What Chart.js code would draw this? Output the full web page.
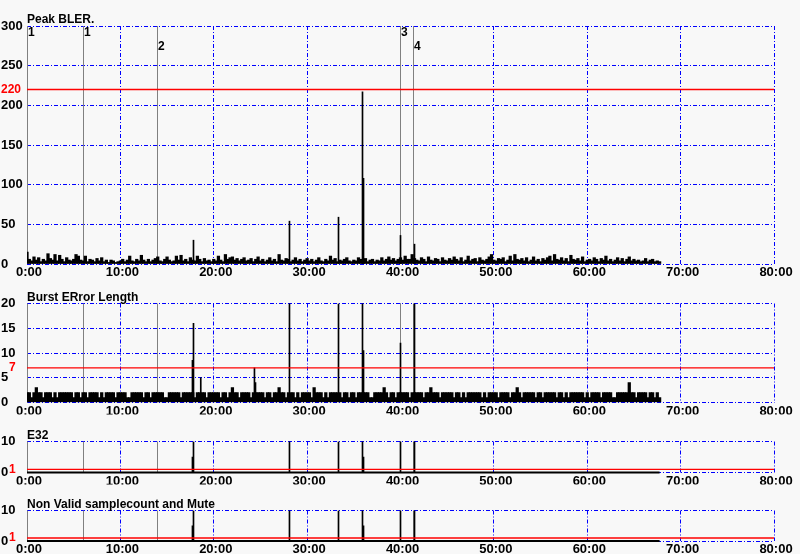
<!DOCTYPE html>
<html>
<head>
<meta charset="utf-8">
<script src="https://cdn.jsdelivr.net/npm/chart.js@4.4.1/dist/chart.umd.min.js"></script>
<style>
  body { margin: 0; background: #f8f8f8; }
  #wrap { position: relative; width: 800px; height: 554px; }
  #wrap canvas { position: absolute; left: 0; top: 0; }
</style>
</head>
<body>
<div id="wrap">
  <canvas id="bler" width="800" height="554"></canvas>
  <canvas id="burst" width="800" height="554"></canvas>
  <canvas id="e32" width="800" height="554"></canvas>
  <canvas id="nv" width="800" height="554"></canvas>
</div>
<script>
// x axis: minutes, labels every 10 min
const xTickLabels = ['0:00', '10:00', '20:00', '30:00', '40:00', '50:00', '60:00', '70:00', '80:00'];
const step = 0.25;      // minutes between samples
const dataEnd = 67.75;  // last sample

// markers (time in minutes)
const markerT = [0, 6.03, 13.95, 40.0, 41.36];
const markerLabels = ['1', '1', '2', '3', '4'];

// limits
const blerLimit = 220;
const burstLimit = 7;
const e32Limit = 1;
const nvLimit = 1;

// Peak BLER, one value per 0.25 min
const blerNoise = [
  15,6,4,9, 5,8,3,6, 4,13,7,5, 12,4,11,6, 3,8,5,4, 6,12,10,5, 4,10,3,6, 5,3,7,4, 8,3,5,2, 5,4,2,3,
  4,6,3,5, 10,4,3,6, 4,11,5,3, 6,3,5,7, 9,4,3,6, 9,5,3,4, 10,5,11,4, 6,3,8,5, 4,10,6,3, 7,4,5,3,
  6,4,10,5, 3,12,6,8, 9,5,7,4, 6,8,4,5, 7,3,6,9, 4,6,3,5, 8,4,6,3, 12,5,4,7, 6,3,5,8, 4,6,3,5,
  7,4,6,3, 5,8,4,3, 6,4,10,5, 7,3,5,4, 6,8,4,3, 5,4,8,6, 4,7,3,5, 6,3,5,4, 8,4,6,9, 5,7,4,6,
  8,5,10,6, 6,12,7,5, 4,8,6,3, 9,5,4,7, 6,3,8,5, 4,7,5,9, 6,4,8,3, 5,10,4,6, 7,3,8,5, 4,6,9,12,
  5,4,7,6, 8,3,5,10, 4,12,6,5, 7,4,8,3, 5,9,4,6, 3,7,5,8, 10,4,12,6, 5,8,4,7, 3,11,6,5, 7,4,9,3,
  5,6,4,8, 6,3,7,5, 10,4,6,3, 5,8,4,7, 3,6,9,4, 6,4,5,3, 4,7,3,5, 6,3,4,3
];
const blerSpikeT = [17.83, 28.11, 33.36, 35.93, 36.04, 40.0, 41.5];
const blerSpikeV = [30, 54, 59, 217, 108, 36, 25];

// Burst ERror Length, one value per 0.25 min
const burstNoise = [
  2,2,1,2, 3,2,2,1, 2,2,2,1, 2,1,2,2, 2,2,2,2, 1,2,2,1, 2,2,1,2, 2,2,2,1, 2,1,2,2, 2,2,1,2,
  2,2,2,1, 1,2,2,2, 2,2,1,2, 2,1,2,2, 2,2,2,1, 1,2,2,2, 2,2,1,2, 2,2,2,2, 1,2,2,2, 2,1,2,2,
  2,2,2,1, 2,2,1,2, 3,2,2,1, 2,2,2,2, 1,2,2,2, 2,2,1,2, 2,1,2,2, 3,2,2,1, 2,2,2,1, 2,1,2,2,
  2,2,1,3, 2,2,2,1, 2,1,2,2, 2,2,2,1, 2,2,1,2, 2,1,2,2, 2,2,2,1, 1,2,2,2, 2,3,2,1, 2,2,1,2,
  2,2,2,2, 1,2,2,2, 2,2,1,2, 2,3,2,2, 2,1,2,2, 2,2,2,1, 2,2,1,2, 1,2,2,2, 2,2,2,1, 2,1,2,2,
  2,2,1,2, 2,2,2,1, 2,2,3,2, 1,2,2,2, 2,2,1,2, 2,1,2,2, 2,2,2,1, 2,2,1,2, 1,2,2,2, 2,2,2,1,
  2,1,2,2, 2,2,1,2, 2,2,2,1, 1,2,2,2, 2,2,4,2, 2,1,2,2, 2,2,1,2, 2,1,2,1
];
const burstSpikeT = [17.72, 17.83, 18.61, 24.36, 24.47, 28.11, 33.36, 35.93, 36.04, 40.0, 41.5];
const burstSpikeV = [8.5, 16, 5, 7, 4, 20, 20, 20, 10.5, 12, 20];

// E32 and Non Valid samplecount and Mute
const e32SpikeT = [17.72, 17.83, 28.11, 33.36, 35.93, 36.04, 40.0, 41.5];
const e32SpikeV = [5, 10, 10, 10, 10, 5, 10, 10];
const nvSpikeT = [17.72, 17.83, 28.11, 33.36, 35.93, 36.04, 40.0, 41.5];
const nvSpikeV = [5, 10, 10, 10, 10, 5, 10, 10];

const BLUE = '#0000ff';
const FONT = '"Liberation Sans", Arial, sans-serif';
Chart.defaults.font.family = FONT;
Chart.defaults.font.size = 12;
Chart.defaults.font.weight = 'bold';
Chart.defaults.color = '#000';

const series = (vals) => vals.map((v, i) => ({ x: i * step, y: v }));
const pairs = (ts, vs) => ts.map((t, i) => ({ x: t, y: vs[i] }));

// gray marker lines, plus red limit label on the left
const overlay = {
  id: 'overlay',
  beforeDatasetsDraw(chart, args, o) {
    const { ctx, chartArea: a, scales: { x } } = chart;
    ctx.save();
    ctx.strokeStyle = '#808080';
    ctx.lineWidth = 1;
    ctx.font = 'bold 12px ' + FONT;
    ctx.fillStyle = '#000';
    ctx.textBaseline = 'top';
    markerT.forEach((t, i) => {
      const px = Math.floor(x.getPixelForValue(t)) + 0.5;
      ctx.beginPath();
      ctx.moveTo(px, a.top);
      ctx.lineTo(px, a.bottom);
      ctx.stroke();
      if (o.labels) {
        const row = (i === 2 || i === 4) ? 14 : 0;
        ctx.fillText(markerLabels[i], px + 0.5, a.top + 1 + row);
      }
    });
    ctx.restore();
  },
  afterDraw(chart, args, o) {
    const { ctx, scales: { y } } = chart;
    ctx.save();
    ctx.font = 'bold 12px ' + FONT;
    ctx.fillStyle = '#ff0000';
    ctx.textBaseline = 'middle';
    ctx.fillText(String(o.limit), o.limitX, y.getPixelForValue(o.limit));
    ctx.restore();
  }
};

function panel(id, cfg) {
  const datasets = [
    {
      type: 'line',
      data: [{ x: 0, y: cfg.limit }, { x: 80, y: cfg.limit }],
      borderColor: '#ff0000', borderWidth: 1.4, pointRadius: 0, order: 0
    }
  ];
  if (cfg.noise) {
    datasets.push({ data: series(cfg.noise), backgroundColor: '#000', barThickness: 2.6, grouped: false, order: 2 });
  } else {
    datasets.push({
      type: 'line', data: [{ x: 0, y: 0 }, { x: dataEnd, y: 0 }],
      borderColor: '#000', borderWidth: 2, pointRadius: 0, order: 2, clip: 2
    });
  }
  datasets.push({ data: pairs(cfg.spikeT, cfg.spikeV), backgroundColor: '#000', barThickness: 1, grouped: false, order: 1 });

  return new Chart(document.getElementById(id), {
    type: 'bar',
    data: { datasets },
    plugins: [overlay],
    options: {
      responsive: false,
      animation: false,
      devicePixelRatio: 1,
      layout: { padding: { left: 1, right: 26, top: cfg.top - 12, bottom: 554 - cfg.bottom - 12 } },
      plugins: {
        legend: { display: false },
        tooltip: { enabled: false },
        title: {
          display: true, text: cfg.title, align: 'start', fullSize: false,
          color: '#000', padding: 0, font: { size: 12, weight: 'bold', lineHeight: 1 }
        },
        overlay: { labels: cfg.markerLabels, limit: cfg.limit, limitX: cfg.limitX }
      },
      scales: {
        x: {
          type: 'linear', min: 0, max: 80, offset: false,
          afterFit: (s) => { s.height = 12; },
          grid: {
            offset: false, drawTicks: false, lineWidth: 1,
            color: (c) => (c.tick && c.tick.value === 0 ? 'rgba(0,0,0,0)' : BLUE)
          },
          border: { display: false, dash: [4, 2, 1, 2] },
          ticks: {
            stepSize: 10, autoSkip: false, maxRotation: 0, padding: 1, labelOffset: 2,
            font: { size: 13 },
            callback: (v, i) => xTickLabels[i]
          }
        },
        y: {
          min: 0, max: cfg.yMax,
          afterFit: (s) => { s.width = 26; },
          grid: { drawTicks: false, color: BLUE, lineWidth: 1 },
          border: { display: false, dash: [4, 2, 1, 2] },
          ticks: { stepSize: cfg.yStep, crossAlign: 'far', padding: 0, font: { size: 13 } }
        }
      }
    }
  });
}

panel('bler', {
  title: 'Peak BLER.', top: 26, bottom: 264, yMax: 300, yStep: 50,
  noise: blerNoise, spikeT: blerSpikeT, spikeV: blerSpikeV,
  limit: blerLimit, limitX: 1, markerLabels: true
});
panel('burst', {
  title: 'Burst ERror Length', top: 303.5, bottom: 402.5, yMax: 20, yStep: 5,
  noise: burstNoise, spikeT: burstSpikeT, spikeV: burstSpikeV,
  limit: burstLimit, limitX: 9, markerLabels: false
});
panel('e32', {
  title: 'E32', top: 441.5, bottom: 472.5, yMax: 10, yStep: 5,
  noise: null, spikeT: e32SpikeT, spikeV: e32SpikeV,
  limit: e32Limit, limitX: 9, markerLabels: false
});
panel('nv', {
  title: 'Non Valid samplecount and Mute', top: 510.5, bottom: 541, yMax: 10, yStep: 5,
  noise: null, spikeT: nvSpikeT, spikeV: nvSpikeV,
  limit: nvLimit, limitX: 9, markerLabels: false
});
</script>
</body>
</html>
